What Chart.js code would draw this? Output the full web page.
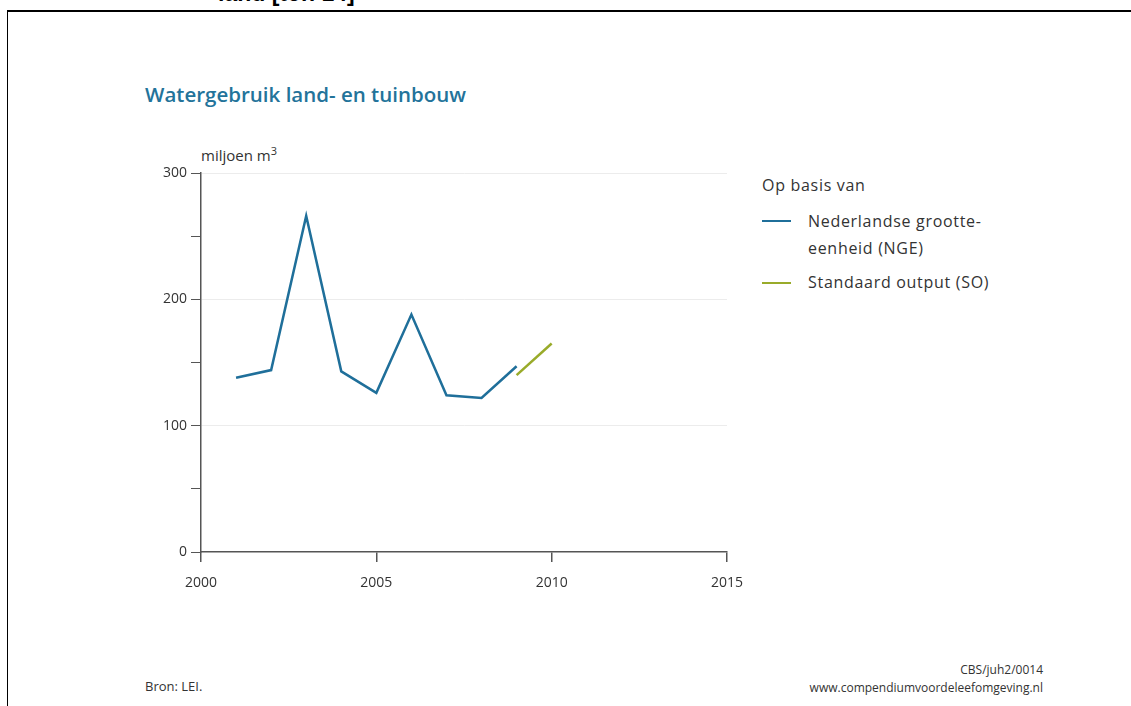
<!DOCTYPE html>
<html>
<head>
<meta charset="utf-8">
<script src="https://cdn.jsdelivr.net/npm/chart.js@4"></script>
<style>
  body { margin: 0; background: #fff; width: 1131px; height: 706px; overflow: hidden; position: relative; font-family: "Open Sans", sans-serif; }
  .frame { position: absolute; left: 7px; top: 10px; right: -5px; bottom: -5px; border-left: 1px solid #000; border-top: 2px solid #000; }
  .cut { position: absolute; left: 218px; top: -20px; font: bold 23px "Liberation Sans", Arial, sans-serif; color: #000; }
  .t { position: absolute; white-space: nowrap; color: #333; }
  .lg { font-size: 16px; letter-spacing: 0.7px; }
  #wrap { position: absolute; left: 140px; top: 150px; width: 620px; height: 450px; }
</style>
</head>
<body>
<div class="cut">land [ton 14]</div>
<div class="frame"></div>
<div class="t" style="left:145px; top:80px; font-size:20.5px; font-weight:600; color:#23739a;">Watergebruik land- en tuinbouw</div>
<div class="t" style="left:201px; top:143px; font-size:15px;">miljoen m<sup style="font-size:11px;">3</sup></div>
<div class="t lg" style="left:762px; top:174px;">Op basis van</div>
<div style="position:absolute; left:762px; top:220px; width:29px; height:2px; background:#1f6f9a;"></div>
<div class="t lg" style="left:808px; top:208px; line-height:27px;">Nederlandse grootte-<br>eenheid (NGE)</div>
<div style="position:absolute; left:762px; top:282px; width:29px; height:2px; background:#99ab2a;"></div>
<div class="t lg" style="left:808px; top:271px;">Standaard output (SO)</div>
<div class="t" style="left:145px; top:677px; font-size:13px;">Bron: LEI.</div>
<div class="t" style="right:88px; top:661px; font-size:12px; text-align:right; line-height:18px;">CBS/juh2/0014<br>www.compendiumvoordeleefomgeving.nl</div>
<div id="wrap"><canvas id="waterChart"></canvas></div>
<script>
// Jaren en waarden (miljoen m3)
let jarenNGE = [2001, 2002, 2003, 2004, 2005, 2006, 2007, 2008, 2009];
let waardenNGE = [138, 144, 266, 143, 126, 188, 124, 122, 147];
let jarenSO = [2009, 2010];
let waardenSO = [140, 165];
let xTicks = [2000, 2005, 2010, 2015];
let yLabels = [0, 100, 200, 300];

const asColor = "#555";

const waterChart = new Chart(document.getElementById("waterChart").getContext("2d"), {
    type: 'line',
    data: {
        datasets: [{
            label: "Nederlandse grootte-eenheid (NGE)",
            data: jarenNGE.map((j, i) => ({ x: j, y: waardenNGE[i] })),
            borderColor: "#1f6f9a",
            borderWidth: 2.5,
            pointRadius: 0,
            tension: 0
        }, {
            label: "Standaard output (SO)",
            data: jarenSO.map((j, i) => ({ x: j, y: waardenSO[i] })),
            borderColor: "#99ab2a",
            borderWidth: 2.5,
            pointRadius: 0,
            tension: 0
        }]
    },
    options: {
        responsive: true,
        maintainAspectRatio: false,
        animation: false,
        layout: { padding: { top: 23, right: 33, left: 0, bottom: 0 } },
        plugins: { legend: { display: false }, tooltip: { enabled: false } },
        scales: {
            x: {
                type: 'linear',
                min: 2000,
                max: 2015,
                afterBuildTicks: scale => { scale.ticks = xTicks.map(v => ({ value: v })); },
                afterFit: scale => { scale.height = 48; },
                border: { color: asColor, width: 1.5 },
                grid: { drawOnChartArea: false, tickLength: 10, tickColor: asColor, lineWidth: 1.5 },
                ticks: { color: "#333", font: { family: "Open Sans", size: 14 }, padding: 13, callback: v => String(v) }
            },
            y: {
                min: 0,
                max: 300,
                ticks: {
                    stepSize: 50,
                    color: "#333",
                    font: { family: "Open Sans", size: 14 },
                    padding: 4,
                    callback: v => yLabels.includes(v) ? String(v) : ""
                },
                afterFit: scale => { scale.width = 61; },
                border: { color: asColor, width: 1.5 },
                grid: {
                    tickLength: 10,
                    tickColor: asColor,
                    color: ctx => (ctx.tick && ctx.tick.value > 0 && ctx.tick.value % 100 === 0) ? "#ececec" : "rgba(0,0,0,0)"
                }
            }
        }
    }
});
</script>
</body>
</html>
